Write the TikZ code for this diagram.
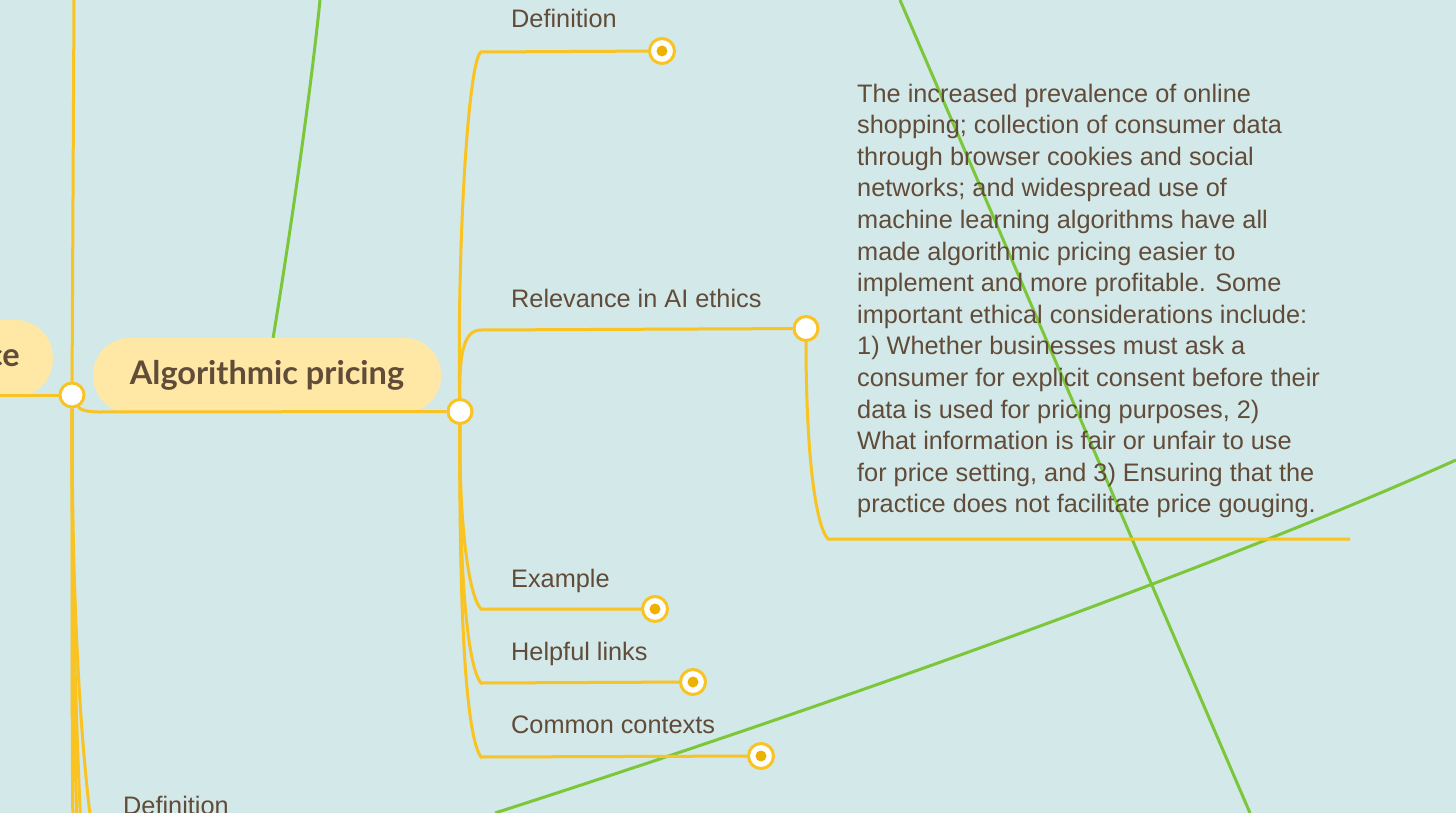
\documentclass[tikz,border=0pt]{standalone}
\usepackage{fontspec}
\setmainfont{Liberation Sans}
\newfontfamily\topicfont{Lato}
\usepackage{tikz}
\definecolor{bgc}{HTML}{D3E8E8}
\definecolor{goldc}{HTML}{F9C322}
\definecolor{dotc}{HTML}{EDB100}
\definecolor{pillc}{HTML}{FFE8A5}
\definecolor{leafc}{HTML}{7CC63A}
\definecolor{inkc}{HTML}{614B39}

\begin{document}
\begin{tikzpicture}[x=1pt, y=-1pt,
  branch/.style={goldc, line width=3pt},
  twig/.style={leafc, line width=3pt},
  hub/.style={circle, draw=goldc, fill=white, line width=3pt, minimum size=24pt, inner sep=0pt},
  leaf/.style={hub, minimum size=25pt, path picture={\fill[dotc] (path picture bounding box.center) circle (5.5pt);}},
  topic/.style={fill=pillc, rounded corners=37pt, inner sep=0pt, text=inkc, font=\topicfont\bfseries\fontsize{32.5}{36}\selectfont},
  lbl/.style={anchor=base west, inner sep=0pt, text=inkc, font=\fontsize{25.3}{30}\selectfont}]
  \fill[bgc] (0,0) rectangle (1456,813);
  \useasboundingbox (0,0) rectangle (1456,813);
  \clip (0,0) rectangle (1456,813);

  % topics
  \node[topic, anchor=east, minimum height=77pt, text width=100pt, align=right, inner xsep=33pt] (prev) at (53,358.5) {ce};
  \node[topic, minimum width=348pt, minimum height=75pt] (algo) at (267,375.5) {Algorithmic pricing};

  % green links to other parts of the map
  \coordinate (g1) at (320,0);
  \coordinate (g2a) at (900,0);
  \coordinate (g2b) at (1250,813);
  \coordinate (g3a) at (495,813);
  \coordinate (g3b) at (1456,460);
  \draw[twig] (algo) .. controls (294,210) and (312,80) .. (g1);
  \draw[twig] (g2a) -- (g2b);
  \draw[twig] (g3a) .. controls (800,715) and (1200,575) .. (g3b);

  % hubs and leaves
  \node[hub] (j0) at (72,395) {};
  \node[hub] (j1) at (460,411.5) {};
  \node[hub] (j2) at (806,328.5) {};
  \node[leaf] (d1) at (662,51) {};
  \node[leaf] (d3) at (655,609) {};
  \node[leaf] (d4) at (693,682) {};
  \node[leaf] (d5) at (761,756) {};

  % left column
  \coordinate (topL) at (74,0);
  \coordinate (inL) at (0,395);
  \coordinate (k0) at (100,412);
  \draw[branch] (topL) -- (j0);
  \draw[branch] (inL) -- (j0);
  \draw[branch] (j0) .. controls (80,410) and (88,412) .. (k0) -- (j1);
  \draw[branch] (j0) .. controls (72,600) and (72,760) .. (73,830);
  \draw[branch] (j0) .. controls (72,620) and (75,760) .. (77,830);
  \draw[branch] (j0) .. controls (72,640) and (78,760) .. (81,830);
  \draw[branch] (j0) .. controls (72,600) and (80,740) .. (92,830);

  % branches of algorithmic pricing
  \coordinate (k1) at (481,52);
  \coordinate (k2) at (481,330);
  \coordinate (k3) at (481,609);
  \coordinate (k4) at (481,683);
  \coordinate (k5) at (481,757);
  \coordinate (k6) at (828,539);
  \coordinate (k7) at (1350,539);
  \draw[branch] (j1) .. controls (457,250) and (468,60) .. (k1) -- (d1);
  \draw[branch] (j1) .. controls (459,350) and (465,330) .. (k2) -- (j2);
  \draw[branch] (j2) .. controls (806,450) and (815,525) .. (k6) -- (k7);
  \draw[branch] (j1) .. controls (459,520) and (468,595) .. (k3) -- (d3);
  \draw[branch] (j1) .. controls (459,560) and (466,665) .. (k4) -- (d4);
  \draw[branch] (j1) .. controls (459,600) and (465,735) .. (k5) -- (d5);

  % labels
  \node[lbl] (t1) at (511,28) {Definition};
  \node[lbl] (t2) at (511,307) {Relevance in AI ethics};
  \node[lbl] (t3) at (511,587) {Example};
  \node[lbl] (t4) at (511,660) {Helpful links};
  \node[lbl] (t5) at (511,733) {Common contexts};
  \node[lbl] (t6) at (123,814.5) {Definition};
  \node[lbl, anchor=north west, align=left, font=\fontsize{25.3}{31.6}\selectfont] (note) at (857,83.5) {The increased prevalence of online\\
shopping; collection of consumer data\\
through browser cookies and social\\
networks; and widespread use of\\
machine learning algorithms have all\\
made algorithmic pricing easier to\\
implement and more profitable. Some\\
important ethical considerations include:\\
1) Whether businesses must ask a\\
consumer for explicit consent before their\\
data is used for pricing purposes, 2)\\
What information is fair or unfair to use\\
for price setting, and 3) Ensuring that the\\
practice does not facilitate price gouging.};
\end{tikzpicture}
\end{document}
